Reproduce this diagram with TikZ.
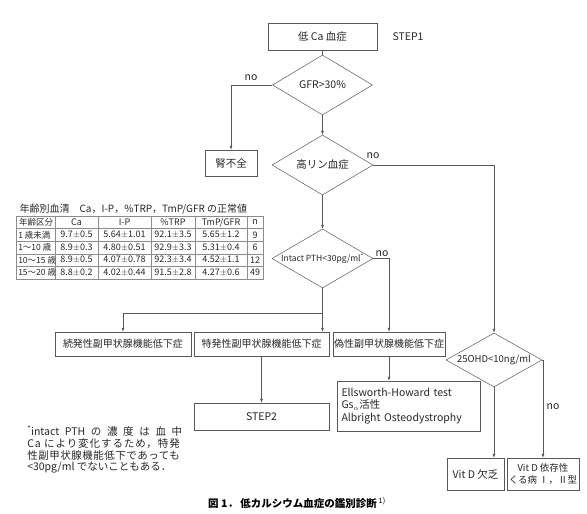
\documentclass[tikz,border=0pt]{standalone}
\usepackage{fontspec}
\setmainfont{Noto Sans CJK JP}
\usepackage{tikz}
\usetikzlibrary{arrows.meta, shapes.geometric}
\newcommand{\spacedline}[2]{{\addfontfeature{LetterSpace=#1}#2}}

\begin{document}
\begin{tikzpicture}[x=1pt, y=-1pt, line width=0.5pt,
  every node/.style={font=\fontsize{10.5}{12.5}\selectfont, text=black!85},
  box/.style={draw=black!65, rectangle, inner sep=2pt, minimum height=24pt},
  rowbox/.style={box, font=\fontsize{10}{12}\selectfont, inner xsep=1pt},
  decision/.style={draw=black!65, diamond, inner sep=0pt},
  arr/.style={draw=black!65, -{Latex[length=4pt,width=3pt]}},
  link/.style={draw=black!65},
  tabline/.style={draw=black!45, line width=0.4pt},
  cell/.style={font=\fontsize{9}{10}\selectfont, inner sep=0pt},
  agecell/.style={cell, anchor=west, font=\fontsize{8.5}{10}\selectfont}]
  \useasboundingbox (0,0) rectangle (587,514);

  \node[box, minimum width=109pt, minimum height=27pt] (start) at (322.5,36.5) {低 Ca 血症};
  \node (step1) at (408,37) {STEP1};
  \node[decision, aspect=1.67, minimum width=100pt, minimum height=60pt] (gfr) at (322.5,85) {GFR>30\%};
  \node[box, minimum width=52pt, minimum height=26pt] (jin) at (231,163) {腎不全};
  \node[decision, aspect=1.67, minimum width=101pt, minimum height=60pt] (hp) at (322.5,165) {高リン血症};
  \node[decision, aspect=1.7, minimum width=101pt, minimum height=59pt, font=\fontsize{8.5}{10}\selectfont] (pth) at (322.5,258.5) {Intact PTH<30pg/ml\textsuperscript{*}};
  \coordinate (br) at (322.5,313);

  \node[rowbox, minimum width=136pt] (zoku) at (123,344) {続発性副甲状腺機能低下症};
  \node[rowbox, minimum width=135pt] (toku) at (261.5,344) {特発性副甲状腺機能低下症};
  \node[rowbox, minimum width=112pt] (gisei) at (389,344) {偽性副甲状腺機能低下症};
  \node[box, minimum width=135pt, minimum height=27pt] (step2) at (261.5,416.5) {STEP2};
  \node[box, minimum height=50pt, text width=134pt, inner xsep=4.5pt, align=left] (ells) at (408.5,406)
    {Ellsworth-Howard test\\Gs$_{\alpha}$活性\\Albright Osteodystrophy};

  \node[decision, aspect=1.78, minimum width=96pt, minimum height=54pt, font=\fontsize{9.5}{11}\selectfont] (vd) at (494,360) {25OHD<10ng/ml};
  \node[box, minimum width=57pt, minimum height=32pt] (def) at (475.5,474) {Vit D 欠乏};
  \node[box, minimum width=72pt, minimum height=32pt, inner xsep=0.5pt, align=center, font=\fontsize{9.5}{12}\selectfont] (dep) at (543,474) {Vit D 依存性\\くる病 Ⅰ，Ⅱ型};

  \node (no1) at (251,78) {no};
  \node (no2) at (373,156) {no};
  \node (no3) at (382,254) {no};
  \node (no4) at (553,407) {no};

  \draw[link] (start.south) -- (gfr.north);
  \draw[arr] (gfr.west) -| (jin.north);
  \draw[arr] (gfr.south) -- (hp.north);
  \draw[arr] (hp.east) -| (vd.north);
  \draw[arr] (hp.south) -- (pth.north);
  \draw[arr] (pth.east) -| (gisei.north);
  \draw[arr] (pth.south) -- (pth.south |- toku.north);
  \draw[arr] (br) -| (zoku.north);
  \draw[arr] (toku.south) -- (step2.north);
  \draw[arr] (gisei.south) -- (gisei.south |- ells.north);
  \draw[arr] (vd.south) -- (vd.south |- def.north);
  \draw[arr] (vd.east) -| (dep.north);

  \node[anchor=west, font=\fontsize{10}{12}\selectfont] (tabtitle) at (16,209) {年齢別血清\quad Ca，I-P，\%TRP，TmP/GFR の正常値};
  \draw[tabline] (16,216) rectangle (263,279);
  \foreach \x in {55,98,151,195,247}
    \draw[tabline] (\x,216) -- (\x,279);
  \foreach \y in {228.6,241.2,253.8,266.4}
    \draw[tabline] (16,\y) -- (263,\y);
  \node[agecell] (h-0) at (19,222.3) {年齢区分};
  \node[cell] (h-1) at (76.5,222.3) {Ca};
  \node[cell] (h-2) at (124.5,222.3) {I-P};
  \node[cell] (h-3) at (173,222.3) {\%TRP};
  \node[cell] (h-4) at (221,222.3) {TmP/GFR};
  \node[cell] (h-5) at (255,222.3) {n};
  \foreach \r/\age/\ca/\ip/\trp/\tmp/\n in {
      1/1 歳未満/9.7$\pm$0.5/5.64$\pm$1.01/92.1$\pm$3.5/5.65$\pm$1.2/9,
      2/1～10 歳/8.9$\pm$0.3/4.80$\pm$0.51/92.9$\pm$3.3/5.31$\pm$0.4/6,
      3/10～15 歳/8.9$\pm$0.5/4.07$\pm$0.78/92.3$\pm$3.4/4.52$\pm$1.1/12,
      4/15～20 歳/8.8$\pm$0.2/4.02$\pm$0.44/91.5$\pm$2.8/4.27$\pm$0.6/49} {
    \node[agecell] (r\r-0) at (18,222.3+12.6*\r) {\age};
    \node[cell] (r\r-1) at (76.5,222.3+12.6*\r) {\ca};
    \node[cell] (r\r-2) at (124.5,222.3+12.6*\r) {\ip};
    \node[cell] (r\r-3) at (173,222.3+12.6*\r) {\trp};
    \node[cell] (r\r-4) at (221,222.3+12.6*\r) {\tmp};
    \node[cell] (r\r-5) at (255,222.3+12.6*\r) {\n};
  }

  \node[anchor=west, inner sep=0pt] (note1) at (27,431) {\makebox[155pt][s]{\textsuperscript{*}intact PTH の 濃 度 は 血 中}};
  \node[anchor=west, inner sep=0pt] (note2) at (27,443.5) {\spacedline{9}{Ca により変化するため，特発}};
  \node[anchor=west, inner sep=0pt] (note3) at (27,456) {\spacedline{5}{性副甲状腺機能低下であっても}};
  \node[anchor=west, inner sep=0pt] (note4) at (27,468) {<30pg/ml でないこともある．};

  \node[font=\bfseries\fontsize{10.5}{12}\selectfont, text=black] (caption) at (297,503) {図 1．\ 低カルシウム血症の鑑別診断\,\textsuperscript{\mdseries 1)}};
\end{tikzpicture}
\end{document}
